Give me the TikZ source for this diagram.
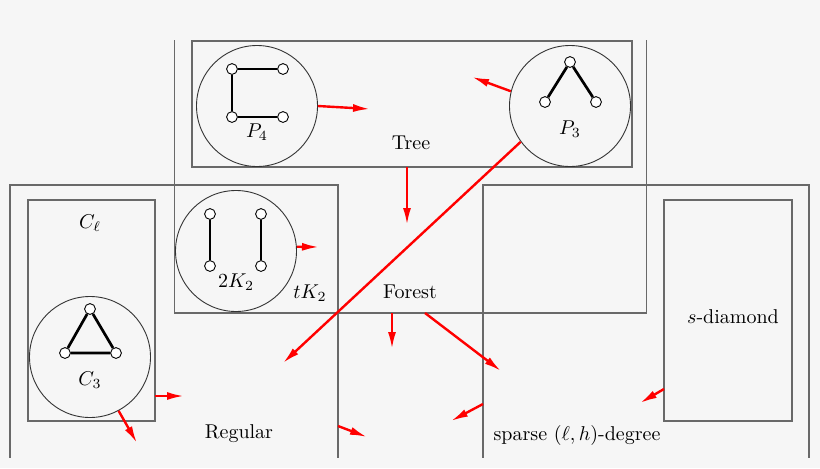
\documentclass[tikz,border=0pt]{standalone}
\usepackage{amssymb}
\usetikzlibrary{calc,arrows.meta}
\definecolor{bggray}{RGB}{246,246,246}
\definecolor{boxgray}{RGB}{105,105,105}

\begin{document}
\begin{tikzpicture}[x=5pt, y=5pt,
        box/.style={line width=.7pt, boxgray},
        gcirc/.style={circle, draw=black!80, line width=.45pt, minimum size=60.5pt, inner sep=0pt},
        vtx/.style={circle, draw=black, fill=white, line width=.45pt, minimum size=5.4pt, inner sep=0pt},
        gedge/.style={line width=1.35pt, black},
        redarr/.style={line width=1.2pt, red, -{Latex[length=8.5pt,width=4pt]}},
        lbl/.style={inner sep=0pt}]

            \fill[bggray] (0,0) rectangle (82,46.8);
            \useasboundingbox (0,0) rectangle (82,46.8);

            % the big classes run off the picture
            \begin{scope}
            \clip (0,1.1) rectangle (82,42.8);
            \draw[box] (17.45,50) rectangle (64.65,15.5);
            \draw[box] (1.0,28.3) rectangle (33.8,-5);
            \draw[box] (48.3,28.3) rectangle (80.9,-5);
            \end{scope}

            \draw[box] (19.2,42.7) rectangle (63.2,30.1);
            \draw[box] (2.8,26.8) rectangle (15.5,4.7);
            \draw[box] (66.4,26.8) rectangle (79.2,4.7);

            \node[gcirc] (p4) at (25.7,36.2) {};
            \node[gcirc] (p3) at (57.0,36.2) {};
            \node[gcirc] (k2) at (23.6,21.7) {};
            \node[gcirc] (c3) at (9.0,11.1) {};

            \foreach \n/\x/\y in {p4a/23.2/39.9,p4b/28.3/39.9,p4c/23.2/35.1,p4d/28.3/35.1,
                                  p3a/57.0/40.6,p3b/54.5/36.6,p3c/59.6/36.6,
                                  k2a/21.0/25.4,k2b/21.0/20.2,k2c/26.1/25.4,k2d/26.1/20.2,
                                  c3a/9.0/15.9,c3b/6.5/11.5,c3c/11.6/11.5} {
            \node[vtx] (\n) at (\x,\y) {};}

            \draw[gedge] (p4b) -- (p4a) -- (p4c) -- (p4d);
            \draw[gedge] (p3b) -- (p3a) -- (p3c);
            \draw[gedge] (k2a) -- (k2b);
            \draw[gedge] (k2c) -- (k2d);
            \draw[gedge] (c3a) -- (c3b) -- (c3c) -- (c3a);

            \node[lbl] (lp4) at (25.7,33.6) {$P_4$};
            \node[lbl] (lp3) at (57.0,33.9) {$P_3$};
            \node[lbl] (lk2) at (23.6,18.6) {$2K_2$};
            \node[lbl] (lc3) at (9.0,8.8) {$C_3$};
            \node[lbl] (lcl) at (9.0,24.5) {$C_\ell$};
            \node[lbl] (ltk) at (31.0,17.5) {$tK_2$};
            \node[lbl] (ltree) at (41.1,32.5) {Tree};
            \node[lbl] (lforest) at (41.0,17.6) {Forest};
            \node[lbl] (lreg) at (23.9,3.4) {Regular};
            \node[lbl] (lsparse) at (57.7,3.3) {sparse $(\ell,h)$-degree};
            \node[lbl] (ldiam) at (73.3,15.1) {$s$-diamond};

            \foreach \n/\x/\y in {e1/37.0/35.9,e2/47.2/39.1,e3/28.3/10.5,s4/40.7/30.1,e4/40.7/24.3,
                                  e5/31.9/22.1,s6/39.2/15.5,e6/39.2/11.9,s7/42.5/15.5,e7/50.1/9.7,
                                  s8/48.3/6.4,e8/45.1/4.7,s9/33.8/4.2,e9/36.7/3.1,
                                  s10/66.4/7.9,e10/64.0/6.5,s11/15.5/7.2,e11/18.4/7.2,e12/13.7/2.5} {
            \coordinate (\n) at (\x,\y);}

            \draw[redarr] (p4.east) -- (e1);
            \draw[redarr] (p3.166) -- (e2);
            \draw[redarr] (p3.216) -- (e3);
            \draw[redarr] (s4) -- (e4);
            \draw[redarr] (k2.4) -- (e5);
            \draw[redarr] (s6) -- (e6);
            \draw[redarr] (s7) -- (e7);
            \draw[redarr] (s8) -- (e8);
            \draw[redarr] (s9) -- (e9);
            \draw[redarr] (s10) -- (e10);
            \draw[redarr] (s11) -- (e11);
            \draw[redarr] (c3.-62) -- (e12);
        \end{tikzpicture}
\end{document}
